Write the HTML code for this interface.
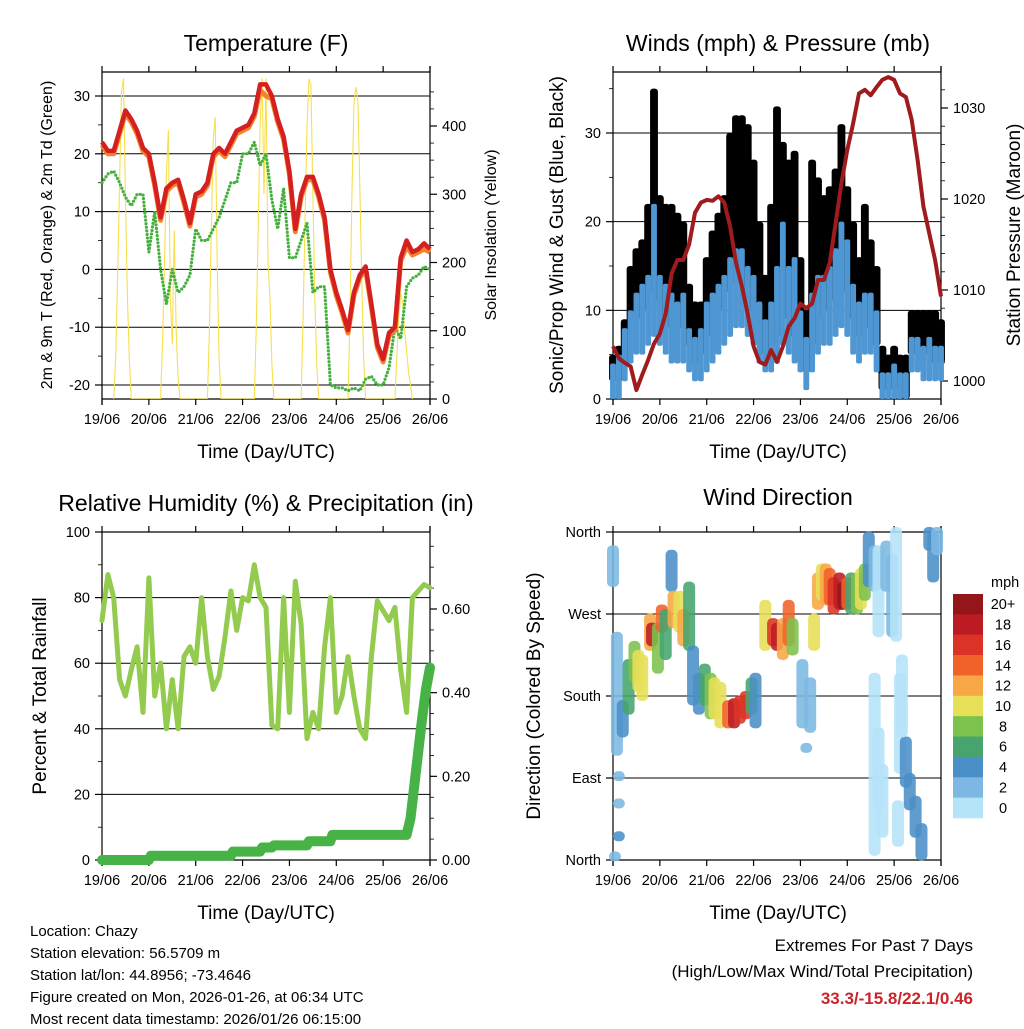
<!DOCTYPE html>
<html><head><meta charset="utf-8"><style>
html,body{margin:0;padding:0;background:#fff;}
svg text{font-family:"Liberation Sans",sans-serif;fill:#000;}
</style></head><body>
<svg id="s" width="1024" height="1024" viewBox="0 0 1024 1024" xmlns="http://www.w3.org/2000/svg"></svg>
<script>
// ---------- DATA (3-hourly unless noted) ----------
const hours3 = [0,3,6,9,12,15,18,21,24,27,30,33,36,39,42,45,48,51,54,57,60,63,66,69,72,75,78,81,84,87,90,93,96,99,102,105,108,111,114,117,120,123,126,129,132,135,138,141,144,147,150,153,156,159,162,165,168];
const dayLabels = ["19/06","20/06","21/06","22/06","23/06","24/06","25/06","26/06"];
const tempRed = [22,20.5,20.5,24,27.5,26,24,21,20,15,9,14,15,15.5,12,8,13,13.5,15,20,21,20,22,24,24.5,25,27,32,32,30,26,23,17,7,13,16,16,13,9,0,-4,-7,-10.5,-4,-1,0.5,-6,-13,-15.5,-11,-10,2,5,3,3.5,4.5,3.5];
const tempOrange = [21.5,20,20,23.5,27,25.5,23.5,20.5,19.5,14.5,8.5,13.5,14.5,15,11.5,7.5,12.5,13,14.5,19.5,20.5,19.5,21.5,23.5,24,24.5,26.5,31,30,29.5,25.5,22.5,16.5,6.5,12.5,15.5,15.5,12.5,8.5,-0.5,-4.5,-7.5,-11,-4.5,-1.5,0,-6.5,-13.5,-16,-11.5,-10.5,1.5,4,2.5,3,3.5,3];
const dewGreen = [15,16.5,17,15,12.5,11,13,13,3,10,0,-6,0,-4,-3,-1,7,5,5,7,9,12,15,15,20,20,22,18,20,12,7,14,2,2,5,8,-4,-3,-3,-20,-20.5,-20.5,-21,-20.5,-21,-19,-18.5,-20,-20,-17,-10,-12,-3,-1.5,-1,0.5,0];
const solarHours = [6,7,8,9,10,11,12,13,14,15,30,31,32,33,34,35,36,37,38,39,40,54,55,56,57,58,59,60,61,78,79,80,81,82,83,84,85,86,87,88,102,103,104,105,106,107,108,109,110,111,126,127,128,129,130,131,132,133,134,135,150,151,152,153,154,155,156,157,158,159];
const solarValues = [0,60,180,320,450,470,300,150,60,0,0,80,200,330,394,150,80,247,100,30,0,0,100,250,380,413,200,60,0,0,100,250,400,470,300,470,200,150,50,0,0,120,260,400,469,460,300,150,50,0,0,120,300,430,457,440,320,180,60,0,0,60,120,155,140,100,70,40,20,0];
const windLo = [0,0,2,4,5,5,6,7,6,5,4,4,4,3,2,2,3,4,5,6,7,8,8,7,6,4,3,3,4,6,5,4,3,1,3,5,6,6,7,8,7,5,4,5,5,3,0,0,0,0,0,3,3,2,2,2,2];
const windHi = [4,5,8,10,12,13,14,22,14,13,12,11,12,8,7,8,11,12,13,14,16,17,17,15,14,11,9,11,15,20,15,16,10,7,12,14,14,15,17,20,18,13,11,12,12,10,3,3,4,3,3,7,7,6,7,6,6];
const gustLo = [2,2,4,7,9,10,12,12,11,9,8,8,8,6,4,5,7,8,10,12,13,15,14,12,10,7,5,6,7,10,9,7,5,3,6,9,10,11,12,14,12,9,7,8,8,6,1,1,2,1,0,5,5,5,5,4,4];
const gustHi = [5,6,9,15,17,18,22,35,23,22,22,21,20,13,11,11,16,19,21,23,30,32,32,31,27,20,14,22,33,29,27,28,16,10,27,25,23,24,26,31,24,20,16,22,18,15,6,5,6,5,5,10,10,10,10,10,9];
const pressure = [1003.8,1002.5,1002,1001.6,999,1000.7,1002.3,1004.1,1005.2,1007.4,1011.8,1013.3,1013.3,1015,1018.5,1019.6,1019.9,1019.8,1020.3,1019.6,1017,1013,1010.4,1007.4,1003.8,1002.1,1001.8,1003.4,1002.1,1003.8,1006,1006.9,1008.5,1008,1008.5,1011.1,1011.1,1013,1017.3,1021.7,1025.4,1028.3,1031.6,1032,1031.4,1032.3,1033.1,1033.4,1033.1,1031.6,1031.2,1028.7,1024.3,1019.2,1016.2,1013.3,1009.3];
const rh = [73,87,80,55,50,58,65,45,86,50,60,40,55,40,62,65,60,80,62,52,56,68,82,70,80,79,90,80,77,41,40,80,45,85,72,37,45,40,65,80,45,50,62,50,40,37,62,79,76,73,77,58,45,80,82,84,83];
const precipHours = [0,24,25,66,67,81,82,87,88,105,106,117,118,156,158,160,162,164,166,168];
const precipValues = [0,0,0.01,0.01,0.02,0.02,0.03,0.03,0.035,0.035,0.045,0.045,0.06,0.06,0.1,0.18,0.26,0.34,0.41,0.46];
const dirHours = [0,2,5,8,11,13,15,19,20,23,25,27,30,31,34,36,39,41,44,47,50,52,55,59,62,65,68,71,73,78,82,84,87,90,92,97,101,103,105,107,109,111,113,116,118,120,122,125,127,129,131,134,136,140,143,145,147,150,152,155,158,162,164,166,3,3,3,99,1,134,136,138,146,148];
const dirLo = [305,120,140,165,200,190,180,235,240,210,255,225,300,260,255,240,235,175,165,175,160,160,150,150,150,155,160,165,150,235,240,235,225,240,230,150,145,235,280,290,285,285,275,280,280,280,275,275,280,290,305,300,250,300,250,245,100,85,60,30,5,345,310,340,92,62,26,123,4,10,60,30,20,140];
const dirHi = [340,245,170,215,235,225,220,265,255,255,275,270,335,290,290,270,300,230,200,210,200,195,190,170,172,175,180,195,200,280,260,255,260,280,260,215,195,265,310,320,320,315,305,310,300,305,310,310,315,320,355,340,340,345,330,360,200,130,90,65,35,360,355,360,92,62,26,123,4,200,140,100,60,220];
const dirSpeed = [2,2,4,6,8,10,10,12,18,8,14,6,4,12,10,12,6,4,4,6,8,10,10,14,18,16,16,6,4,10,16,18,12,14,8,2,2,10,12,10,12,14,16,18,20,14,6,8,10,8,4,2,0,2,2,0,0,4,4,4,4,4,4,2,2,2,4,2,2,0,0,0,0,0];
const cbLabels = ["20+","18","16","14","12","10","8","6","4","2","0"];
const cbColors = ["#94161a","#bd1b23","#dc3326","#f0622a","#f7a746","#e6df58","#7dc24c","#46a46c","#4a8fc7","#7cb8e3","#b5e3f8"];

// ---------- helpers ----------
const S = document.getElementById('s');
const NS = "http://www.w3.org/2000/svg";
function mk(tag, attrs, parent, text){
  const e = document.createElementNS(NS, tag);
  for (const k in attrs) e.setAttribute(k, attrs[k]);
  if (text !== undefined) e.textContent = text;
  (parent || S).appendChild(e);
  return e;
}
function group(name){
  const g = mk('g', {});
  
  
  return g;
}
function lin(d0,d1,r0,r1){ return v => r0 + (v-d0)/(d1-d0)*(r1-r0); }
function pathFrom(xs, ys, xf, yf){
  let d = '';
  for (let i=0;i<xs.length;i++) d += (i?'L':'M') + xf(xs[i]).toFixed(1) + ' ' + yf(ys[i]).toFixed(1);
  return d;
}

function panelFrame(g, p, leftTicks, leftFmt, yL, rightTicks, rightFmt, yR, minorL, minorR){
  const xf = lin(0,168,p.x0,p.x1);
  leftTicks.forEach(v=>{
    const y = yL(v);
    if (y > p.y0+0.5 && y < p.y1-0.5) {
      const l = mk('line',{x1:p.x0,x2:p.x1,y1:y,y2:y,stroke:'#000','stroke-width':1},g);
      
      
    }
  });
  mk('line',{x1:p.x0,x2:p.x1,y1:p.y0,y2:p.y0,stroke:'#000','stroke-width':1.2},g);
  mk('line',{x1:p.x0,x2:p.x1,y1:p.y1,y2:p.y1,stroke:'#000','stroke-width':1.2},g);
  mk('line',{x1:p.x0,x2:p.x0,y1:p.y0,y2:p.y1+6,stroke:'#000','stroke-width':1.2},g);
  mk('line',{x1:p.x1,x2:p.x1,y1:p.y0-6,y2:p.y1+6,stroke:'#000','stroke-width':1.2},g);
  dayLabels.forEach((lab,i)=>{
    const x = xf(i*24);
    mk('line',{x1:x,x2:x,y1:p.y1,y2:p.y1+6,stroke:'#000','stroke-width':1.2},g);
    mk('line',{x1:x,x2:x,y1:p.y0,y2:p.y0-6,stroke:'#000','stroke-width':1.2},g);
    const t = mk('text',{x:x,y:p.y1+25,'font-size':14.5,'text-anchor':'middle'},g,lab);
    
    
  });
  leftTicks.forEach(v=>{
    const y = yL(v);
    mk('line',{x1:p.x0-7,x2:p.x0,y1:y,y2:y,stroke:'#000','stroke-width':1.2},g);
    if (leftFmt) {
      const t = mk('text',{x:p.x0-12,y:y+5,'font-size':14.5,'text-anchor':'end'},g,leftFmt(v));
      
      
    }
  });
  (minorL||[]).forEach(v=>{ const y=yL(v); if(y>=p.y0&&y<=p.y1) mk('line',{x1:p.x0-4,x2:p.x0,y1:y,y2:y,stroke:'#000','stroke-width':0.8},g); });
  if (rightTicks) {
    rightTicks.forEach(v=>{
      const y = yR(v);
      mk('line',{x1:p.x1,x2:p.x1+7,y1:y,y2:y,stroke:'#000','stroke-width':1.2},g);
      const t = mk('text',{x:p.x1+12,y:y+5,'font-size':14.5,'text-anchor':'start'},g,rightFmt(v));
      
      
    });
    (minorR||[]).forEach(v=>{ const y=yR(v); if(y>=p.y0&&y<=p.y1) mk('line',{x1:p.x1,x2:p.x1+4,y1:y,y2:y,stroke:'#000','stroke-width':0.8},g); });
  }
  return xf;
}
function title(x,y,txt,size,name,rot){
  const a = {x:x,y:y,'font-size':size,'text-anchor':'middle'};
  if (rot) a.transform = `rotate(${rot} ${x} ${y})`;
  const t = mk('text',a,S,txt);
  
  
  return t;
}

// ---------- Panel 1: Temperature ----------
(function(){
  const p = {x0:102,x1:430,y0:72,y1:399};
  const g = group('temperature-chart');
  const yL = lin(30,-20,96,385);
  const yR = lin(0,400,399,126);
  const xf = panelFrame(g,p,[-20,-10,0,10,20,30],v=>String(v),yL,[0,100,200,300,400],v=>String(v),yR,
    [-15,-5,5,15,25],[25,50,75,125,150,175,225,250,275,325,350,375,425,450]);
  const clip = mk('clipPath',{id:'c1'},g); mk('rect',{x:p.x0,y:p.y0,width:p.x1-p.x0,height:p.y1-p.y0},clip);
  const sol = mk('path',{d:pathFrom(solarHours,solarValues,xf,yR),fill:'none',stroke:'#f7df4e','stroke-width':1.1,'clip-path':'url(#c1)'},g);
  
  
  const dg = mk('path',{d:pathFrom(hours3,dewGreen,xf,yL),fill:'none',stroke:'#45b03d','stroke-width':3.2,'stroke-linecap':'round','stroke-linejoin':'round','stroke-dasharray':'0 3.6'},g);
  
  
  const or = mk('path',{d:pathFrom(hours3,tempOrange,xf,yL),fill:'none',stroke:'#f4822a','stroke-width':5,'stroke-linejoin':'round'},g);
  
  
  const rd = mk('path',{d:pathFrom(hours3,tempRed,xf,yL),fill:'none',stroke:'#d42020','stroke-width':4.5,'stroke-linejoin':'round'},g);
  
  
})();
title(266,51,'Temperature (F)',23,'temperature-title');
title(266,458,'Time (Day/UTC)',19,'x-axis-title');
title(52,235,'2m & 9m T (Red, Orange) & 2m Td (Green)',16,'y-axis-title',-90);
title(496,235,'Solar Insolation (Yellow)',16,'right-axis-title',-90);

// ---------- Panel 2: Winds ----------
(function(){
  const p = {x0:613,x1:941,y0:72,y1:399};
  const g = group('winds-chart');
  const yL = lin(0,30,399,133);
  const yR = lin(1000,1030,381,108);
  const xf = panelFrame(g,p,[0,10,20,30],v=>String(v),yL,[1000,1010,1020,1030],v=>String(v),yR,
    [5,15,25,35],[998,1002,1004,1006,1008,1012,1014,1016,1018,1022,1024,1026,1028,1032,1034,1036]);
  const w = (p.x1-p.x0)/56;
  hours3.forEach((h,i)=>{
    const r = mk('rect',{x:xf(h)-w/2-1,y:yL(gustHi[i]),width:w+2,height:Math.max(2,yL(gustLo[i])-yL(gustHi[i])),fill:'#000',rx:3},g);
    
    
  });
  hours3.forEach((h,i)=>{
    const r = mk('rect',{x:xf(h)-w/2,y:yL(windHi[i]),width:w,height:Math.max(2,yL(windLo[i])-yL(windHi[i])),fill:'#4e97d3',rx:2},g);
    
    
  });
  const pr = mk('path',{d:pathFrom(hours3,pressure,xf,yR),fill:'none',stroke:'#a01b1e','stroke-width':4,'stroke-linejoin':'round'},g);
  
  
})();
title(778,51,'Winds (mph) & Pressure (mb)',23,'winds-title');
title(778,458,'Time (Day/UTC)',19,'x-axis-title');
title(563,235,'Sonic/Prop Wind & Gust (Blue, Black)',19,'y-axis-title',-90);
title(1020,235,'Station Pressure (Maroon)',19,'right-axis-title',-90);

// ---------- Panel 3: RH & precip ----------
(function(){
  const p = {x0:102,x1:430,y0:532,y1:860};
  const g = group('humidity-chart');
  const yL = lin(0,100,860,532);
  const yR = lin(0,0.6,860,609);
  const xf = panelFrame(g,p,[0,20,40,60,80,100],v=>String(v),yL,[0,0.2,0.4,0.6],v=>v.toFixed(2),yR,
    [10,30,50,70,90],[0.05,0.1,0.15,0.25,0.3,0.35,0.45,0.5,0.55,0.65,0.7,0.75]);
  const rl = mk('path',{d:pathFrom(hours3,rh,xf,yL),fill:'none',stroke:'#93cb4f','stroke-width':5,'stroke-linejoin':'round','stroke-linecap':'round'},g);
  
  
  const pl = mk('path',{d:pathFrom(precipHours,precipValues,xf,yR),fill:'none',stroke:'#47b245','stroke-width':10,'stroke-linejoin':'round','stroke-linecap':'round'},g);
  
  
})();
title(266,511,'Relative Humidity (%) & Precipitation (in)',23,'humidity-title');
title(266,919,'Time (Day/UTC)',19,'x-axis-title');
title(46,696,'Percent & Total Rainfall',19,'y-axis-title',-90);

// ---------- Panel 4: Wind direction ----------
(function(){
  const p = {x0:613,x1:941,y0:532,y1:860};
  const g = group('wind-direction-chart');
  const yL = lin(0,360,860,532);
  const names = {0:'North',90:'East',180:'South',270:'West',360:'North'};
  const xf = panelFrame(g,p,[0,90,180,270,360],v=>names[v],yL,null,null,null,[],[]);
  function speedColor(s){ let k = Math.min(10, Math.floor(s/2)); return cbColors[10-k]; }
  dirHours.forEach((h,i)=>{
    const top = yL(dirHi[i]), bot = yL(dirLo[i]);
    const r = mk('rect',{x:xf(h)-6,y:top-5,width:12,height:bot-top+10,rx:5,fill:speedColor(dirSpeed[i]),opacity:0.88},g);
    
    
  });
  const cb = group('colorbar');
  const bh = (818-594)/cbColors.length;
  cbColors.forEach((c,i)=>{
    const r = mk('rect',{x:953,y:594+i*bh,width:30,height:bh+0.3,fill:c},cb);
    
    
    const t = mk('text',{x:1003,y:594+i*bh+bh/2+5,'font-size':14.5,'text-anchor':'middle'},cb,cbLabels[i]);
    
    
  });
  const u = mk('text',{x:991,y:587,'font-size':14.5},cb,'mph');
  
  
})();
title(778,505,'Wind Direction',23,'wind-direction-title');
title(778,919,'Time (Day/UTC)',19,'x-axis-title');
title(540,696,'Direction (Colored By Speed)',19,'y-axis-title',-90);

// ---------- footer text ----------
const info = ["Location: Chazy","Station elevation: 56.5709 m","Station lat/lon: 44.8956; -73.4646","Figure created on Mon, 2026-01-26, at 06:34 UTC","Most recent data timestamp: 2026/01/26 06:15:00"];
info.forEach((s,i)=>{
  const t = mk('text',{x:30,y:936+i*22,'font-size':15},S,s);
  
  
});
const e1 = mk('text',{x:973,y:951,'font-size':17,'text-anchor':'end'},S,'Extremes For Past 7 Days');


const e2 = mk('text',{x:973,y:977,'font-size':17,'text-anchor':'end'},S,'(High/Low/Max Wind/Total Precipitation)');


const e3 = mk('text',{x:973,y:1004,'font-size':17,'text-anchor':'end','font-weight':'bold',style:'fill:#c8262c'},S,'33.3/-15.8/22.1/0.46');


</script>
</body></html>
